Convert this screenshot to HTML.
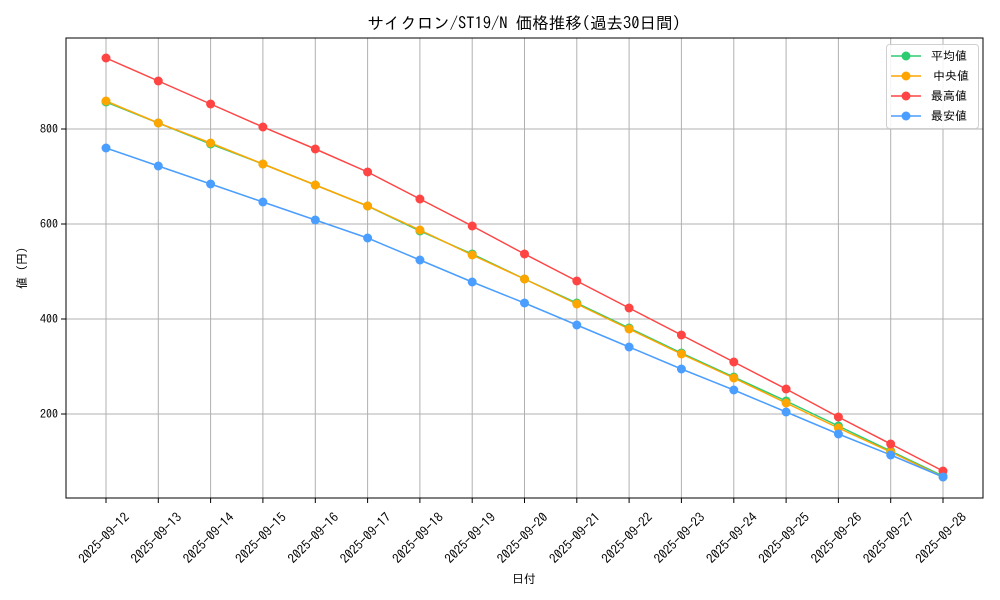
<!DOCTYPE html>
<html><head><meta charset="utf-8"><style>
body{margin:0;background:#fff}
svg{display:block}
text{font-family:"IPAGothic","Noto Sans CJK JP",monospace;font-size:12px;fill:#000}
.xt text{font-size:13px}
</style></head><body>
<svg width="1000" height="600" xmlns="http://www.w3.org/2000/svg">
<rect width="1000" height="600" fill="#fff"/>
<text x="524" y="29" text-anchor="middle" style="font-size:16.5px">サイクロン/ST19/N 価格推移(過去30日間)</text>
<g stroke="#b0b0b0" stroke-width="1">
<line x1="106" y1="38" x2="106" y2="498"/><line x1="158.3" y1="38" x2="158.3" y2="498"/><line x1="210.6" y1="38" x2="210.6" y2="498"/><line x1="262.9" y1="38" x2="262.9" y2="498"/><line x1="315.3" y1="38" x2="315.3" y2="498"/><line x1="367.6" y1="38" x2="367.6" y2="498"/><line x1="419.9" y1="38" x2="419.9" y2="498"/><line x1="472.2" y1="38" x2="472.2" y2="498"/><line x1="524.5" y1="38" x2="524.5" y2="498"/><line x1="576.8" y1="38" x2="576.8" y2="498"/><line x1="629.1" y1="38" x2="629.1" y2="498"/><line x1="681.4" y1="38" x2="681.4" y2="498"/><line x1="733.8" y1="38" x2="733.8" y2="498"/><line x1="786.1" y1="38" x2="786.1" y2="498"/><line x1="838.4" y1="38" x2="838.4" y2="498"/><line x1="890.7" y1="38" x2="890.7" y2="498"/><line x1="943" y1="38" x2="943" y2="498"/>
<line x1="66" y1="129" x2="983" y2="129"/><line x1="66" y1="224" x2="983" y2="224"/><line x1="66" y1="319" x2="983" y2="319"/><line x1="66" y1="414" x2="983" y2="414"/>
</g>
<g stroke="#000" stroke-width="1">
<line x1="106" y1="498" x2="106" y2="503"/><line x1="158.3" y1="498" x2="158.3" y2="503"/><line x1="210.6" y1="498" x2="210.6" y2="503"/><line x1="262.9" y1="498" x2="262.9" y2="503"/><line x1="315.3" y1="498" x2="315.3" y2="503"/><line x1="367.6" y1="498" x2="367.6" y2="503"/><line x1="419.9" y1="498" x2="419.9" y2="503"/><line x1="472.2" y1="498" x2="472.2" y2="503"/><line x1="524.5" y1="498" x2="524.5" y2="503"/><line x1="576.8" y1="498" x2="576.8" y2="503"/><line x1="629.1" y1="498" x2="629.1" y2="503"/><line x1="681.4" y1="498" x2="681.4" y2="503"/><line x1="733.8" y1="498" x2="733.8" y2="503"/><line x1="786.1" y1="498" x2="786.1" y2="503"/><line x1="838.4" y1="498" x2="838.4" y2="503"/><line x1="890.7" y1="498" x2="890.7" y2="503"/><line x1="943" y1="498" x2="943" y2="503"/>
<line x1="61" y1="129" x2="66" y2="129"/><line x1="61" y1="224" x2="66" y2="224"/><line x1="61" y1="319" x2="66" y2="319"/><line x1="61" y1="414" x2="66" y2="414"/>
</g>
<g text-anchor="end">
<text x="58" y="133">800</text><text x="58" y="228">600</text><text x="58" y="323">400</text><text x="58" y="418">200</text>
</g>
<g class="xt" text-anchor="middle" dominant-baseline="central">
<text transform="translate(104,538) rotate(-45)">2025-09-12</text>
<text transform="translate(156.3,538) rotate(-45)">2025-09-13</text>
<text transform="translate(208.6,538) rotate(-45)">2025-09-14</text>
<text transform="translate(260.9,538) rotate(-45)">2025-09-15</text>
<text transform="translate(313.3,538) rotate(-45)">2025-09-16</text>
<text transform="translate(365.6,538) rotate(-45)">2025-09-17</text>
<text transform="translate(417.9,538) rotate(-45)">2025-09-18</text>
<text transform="translate(470.2,538) rotate(-45)">2025-09-19</text>
<text transform="translate(522.5,538) rotate(-45)">2025-09-20</text>
<text transform="translate(574.8,538) rotate(-45)">2025-09-21</text>
<text transform="translate(627.1,538) rotate(-45)">2025-09-22</text>
<text transform="translate(679.4,538) rotate(-45)">2025-09-23</text>
<text transform="translate(731.8,538) rotate(-45)">2025-09-24</text>
<text transform="translate(784.1,538) rotate(-45)">2025-09-25</text>
<text transform="translate(836.4,538) rotate(-45)">2025-09-26</text>
<text transform="translate(888.7,538) rotate(-45)">2025-09-27</text>
<text transform="translate(941,538) rotate(-45)">2025-09-28</text>
</g>
<text x="524" y="583" text-anchor="middle">日付</text>
<text transform="translate(26,268) rotate(-90)" text-anchor="middle">値 (円)</text>
<g fill="none" stroke-width="1.5">
<polyline stroke="#2ecc71" points="106,102 158.3,123 210.6,144 262.9,164 315.3,185 367.6,206 419.9,231 472.2,254 524.5,279 576.8,303 629.1,328 681.4,353 733.8,377 786.1,401 838.4,426 890.7,451 943,476"/>
<polyline stroke="#ffa500" points="106,101 158.3,123 210.6,143 262.9,164 315.3,185 367.6,206 419.9,230 472.2,255 524.5,279 576.8,304 629.1,329 681.4,354 733.8,378 786.1,403 838.4,428 890.7,452 943,477"/>
<polyline stroke="#ff4444" points="106,58 158.3,81 210.6,104 262.9,127 315.3,149 367.6,172 419.9,199 472.2,226 524.5,254 576.8,281 629.1,308 681.4,335 733.8,362 786.1,389 838.4,417 890.7,444 943,471"/>
<polyline stroke="#4a9eff" points="106,148 158.3,166 210.6,184 262.9,202 315.3,220 367.6,238 419.9,260 472.2,282 524.5,303 576.8,325 629.1,347 681.4,369 733.8,390 786.1,412 838.4,434 890.7,455 943,477"/>
</g>
<g fill="#2ecc71"><circle cx="106" cy="102" r="4.5"/><circle cx="158.3" cy="123" r="4.5"/><circle cx="210.6" cy="144" r="4.5"/><circle cx="262.9" cy="164" r="4.5"/><circle cx="315.3" cy="185" r="4.5"/><circle cx="367.6" cy="206" r="4.5"/><circle cx="419.9" cy="231" r="4.5"/><circle cx="472.2" cy="254" r="4.5"/><circle cx="524.5" cy="279" r="4.5"/><circle cx="576.8" cy="303" r="4.5"/><circle cx="629.1" cy="328" r="4.5"/><circle cx="681.4" cy="353" r="4.5"/><circle cx="733.8" cy="377" r="4.5"/><circle cx="786.1" cy="401" r="4.5"/><circle cx="838.4" cy="426" r="4.5"/><circle cx="890.7" cy="451" r="4.5"/><circle cx="943" cy="476" r="4.5"/></g>
<g fill="#ffa500"><circle cx="106" cy="101" r="4.5"/><circle cx="158.3" cy="123" r="4.5"/><circle cx="210.6" cy="143" r="4.5"/><circle cx="262.9" cy="164" r="4.5"/><circle cx="315.3" cy="185" r="4.5"/><circle cx="367.6" cy="206" r="4.5"/><circle cx="419.9" cy="230" r="4.5"/><circle cx="472.2" cy="255" r="4.5"/><circle cx="524.5" cy="279" r="4.5"/><circle cx="576.8" cy="304" r="4.5"/><circle cx="629.1" cy="329" r="4.5"/><circle cx="681.4" cy="354" r="4.5"/><circle cx="733.8" cy="378" r="4.5"/><circle cx="786.1" cy="403" r="4.5"/><circle cx="838.4" cy="428" r="4.5"/><circle cx="890.7" cy="452" r="4.5"/><circle cx="943" cy="477" r="4.5"/></g>
<g fill="#ff4444"><circle cx="106" cy="58" r="4.5"/><circle cx="158.3" cy="81" r="4.5"/><circle cx="210.6" cy="104" r="4.5"/><circle cx="262.9" cy="127" r="4.5"/><circle cx="315.3" cy="149" r="4.5"/><circle cx="367.6" cy="172" r="4.5"/><circle cx="419.9" cy="199" r="4.5"/><circle cx="472.2" cy="226" r="4.5"/><circle cx="524.5" cy="254" r="4.5"/><circle cx="576.8" cy="281" r="4.5"/><circle cx="629.1" cy="308" r="4.5"/><circle cx="681.4" cy="335" r="4.5"/><circle cx="733.8" cy="362" r="4.5"/><circle cx="786.1" cy="389" r="4.5"/><circle cx="838.4" cy="417" r="4.5"/><circle cx="890.7" cy="444" r="4.5"/><circle cx="943" cy="471" r="4.5"/></g>
<g fill="#4a9eff"><circle cx="106" cy="148" r="4.5"/><circle cx="158.3" cy="166" r="4.5"/><circle cx="210.6" cy="184" r="4.5"/><circle cx="262.9" cy="202" r="4.5"/><circle cx="315.3" cy="220" r="4.5"/><circle cx="367.6" cy="238" r="4.5"/><circle cx="419.9" cy="260" r="4.5"/><circle cx="472.2" cy="282" r="4.5"/><circle cx="524.5" cy="303" r="4.5"/><circle cx="576.8" cy="325" r="4.5"/><circle cx="629.1" cy="347" r="4.5"/><circle cx="681.4" cy="369" r="4.5"/><circle cx="733.8" cy="390" r="4.5"/><circle cx="786.1" cy="412" r="4.5"/><circle cx="838.4" cy="434" r="4.5"/><circle cx="890.7" cy="455" r="4.5"/><circle cx="943" cy="477" r="4.5"/></g>
<rect x="66" y="38" width="917" height="460" fill="none" stroke="#000" stroke-width="1"/>
<rect x="886.5" y="44.5" width="92" height="84" rx="3" fill="#fff" fill-opacity="0.85" stroke="#d0d0d0"/>
<g stroke-width="1.5">
<line x1="891" y1="56" x2="921" y2="56" stroke="#2ecc71"/><circle cx="906" cy="56" r="4.5" fill="#2ecc71"/>
<line x1="891" y1="76" x2="921" y2="76" stroke="#ffa500"/><circle cx="906" cy="76" r="4.5" fill="#ffa500"/>
<line x1="891" y1="96" x2="921" y2="96" stroke="#ff4444"/><circle cx="906" cy="96" r="4.5" fill="#ff4444"/>
<line x1="891" y1="116" x2="921" y2="116" stroke="#4a9eff"/><circle cx="906" cy="116" r="4.5" fill="#4a9eff"/>
</g>
<text x="931" y="60">平均値</text>
<text x="933" y="80">中央値</text>
<text x="931" y="100">最高値</text>
<text x="931" y="120">最安値</text>
</svg>
</body></html>
